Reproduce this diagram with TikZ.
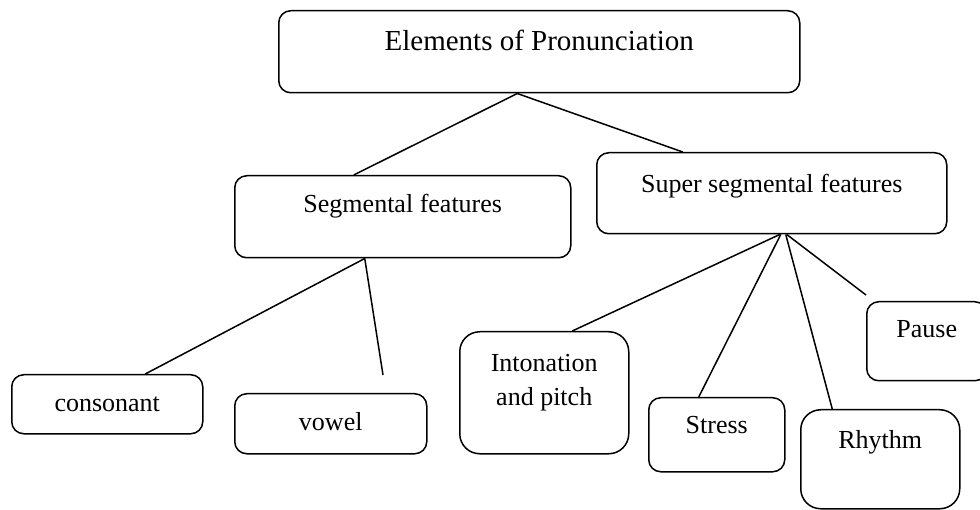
\documentclass[tikz,border=0pt]{standalone}
\usepackage{fontspec}
\setmainfont{Liberation Serif}
\usetikzlibrary{positioning}

\begin{document}
\begin{tikzpicture}[x=1pt, y=-1pt, line width=1.5pt, every node/.style={font=\fontsize{26}{34}\selectfont}, box/.style={draw,rounded corners=12pt,anchor=north west,inner xsep=0pt,inner ysep=0pt,align=center}, tallbox/.style={box,rounded corners=20pt}, link/.style={line width=1.5pt}]
\useasboundingbox (0,0) rectangle (980,510);
% top level
\node[box,minimum width=521pt,text height=40pt,text depth=42pt,font=\fontsize{29}{34}\selectfont] (pron) at (278,10) {Elements of Pronunciation};
% second level
\node[box,minimum width=336pt,text height=37pt,text depth=45pt] (seg) at (234,175) {Segmental features};
\node[box,minimum width=350pt,text height=40pt,text depth=41pt] (sup) at (596,152) {Super segmental features};
% segmental children
\node[box,minimum width=191pt,text height=37pt,text depth=22pt] (cons) at (11,374) {consonant};
\node[box,minimum width=192pt,text height=37pt,text depth=23pt] (vow) at (234,393) {vowel};
% super segmental children
\node[tallbox,minimum width=169pt,text height=40pt,text depth=82pt] (inton) at (459,331) {\begin{tabular}[t]{@{}c@{}}Intonation\\and pitch\end{tabular}};
\node[box,minimum width=136pt,text height=36pt,text depth=38pt] (stress) at (648,397) {Stress};
\node[tallbox,minimum width=159pt,text height=39pt,text depth=60pt] (rhythm) at (800,409) {Rhythm};
\node[box,minimum width=120pt,text height=36pt,text depth=43pt] (pause) at (866,301) {Pause};
\coordinate (vowend) at (383,375);
\coordinate (pauseend) at (866,295);
\draw[link] ([xshift=-22pt]pron.south) -- ([xshift=-49pt]seg.north);
\draw[link] ([xshift=-22pt]pron.south) -- ([xshift=-89pt]sup.north);
\draw[link] ([xshift=-38pt]seg.south) -- ([xshift=38pt]cons.north);
\draw[link] ([xshift=-38pt]seg.south) -- (vowend);
\draw[link] ([xshift=8pt]sup.south) -- ([xshift=28pt]inton.north);
\draw[link] ([xshift=9pt]sup.south) -- ([xshift=-18pt]stress.north);
\draw[link] ([xshift=14pt]sup.south) -- ([xshift=-48pt]rhythm.north);
\draw[link] ([xshift=15pt]sup.south) -- (pauseend);
\end{tikzpicture}
\end{document}
